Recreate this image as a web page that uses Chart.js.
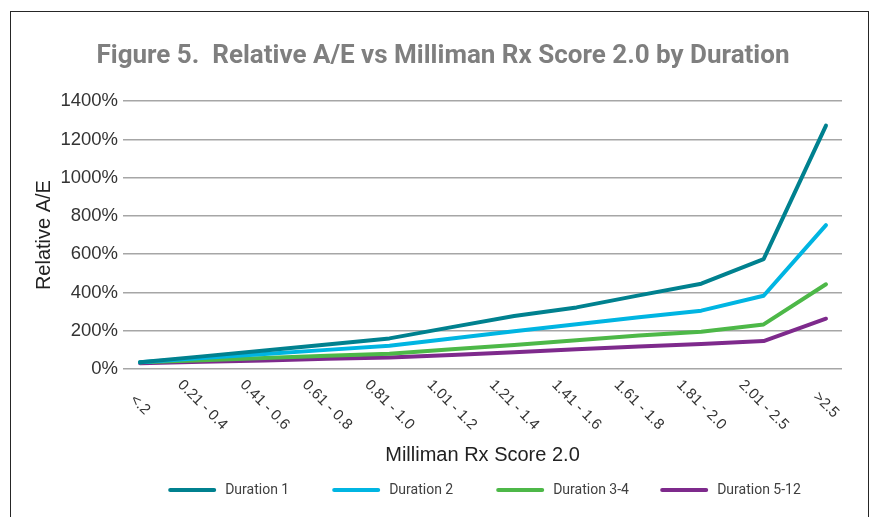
<!DOCTYPE html>
<html>
<head>
<meta charset="utf-8">
<script src="https://cdn.jsdelivr.net/npm/chart.js@4.4.0/dist/chart.umd.min.js"></script>
<style>
    html, body { margin: 0; padding: 0; background: #fff; }
    #wrap { position: relative; width: 873px; height: 517px; overflow: hidden; }
    #frame { position: absolute; left: 10px; top: 11px; width: 857px; height: 560px; border: 1.5px solid #262626; }
    #chart { position: absolute; left: 0; top: 0; }
</style>
</head>
<body>
<div id="wrap">
    <div id="frame"></div>
    <canvas id="chart" width="873" height="517"></canvas>
</div>
<script>
// Score bands on the x axis
const scoreBands = ['<.2', '0.21 - 0.4', '0.41 - 0.6', '0.61 - 0.8', '0.81 - 1.0', '1.01 - 1.2',
    '1.21 - 1.4', '1.41 - 1.6', '1.61 - 1.8', '1.81 - 2.0', '2.01 - 2.5', '>2.5'];

// Relative A/E (%) per duration group
const duration1 = [35, 66, 97, 128, 160, 219, 277, 322, 385, 446, 574, 1272];
const duration2 = [35, 57, 79, 100, 122, 160, 197, 234, 270, 305, 383, 752];
const duration34 = [35, 46, 57, 69, 80, 103, 126, 150, 175, 195, 233, 443];
const duration512 = [30, 38, 45, 53, 60, 73, 88, 103, 118, 131, 146, 263];

const yTicks = [0, 200, 400, 600, 800, 1000, 1200, 1400];

const seriesNames = ['Duration 1', 'Duration 2', 'Duration 3-4', 'Duration 5-12'];
const seriesColors = ['#00818f', '#00b5e2', '#4db848', '#7e2a8c'];

const axisFont = 'Liberation Sans';

function toPoints(values) {
    return values.map((v, i) => ({ x: i, y: v }));
}

// Diagonal x labels (rotated clockwise, centred on the tick)
const diagLabels = {
    id: 'diagLabels',
    afterDraw(chart) {
        const ctx = chart.ctx;
        const xs = chart.scales.x;
        ctx.save();
        ctx.font = '15px "' + axisFont + '"';
        ctx.fillStyle = '#333';
        ctx.textAlign = 'center';
        ctx.textBaseline = 'middle';
        scoreBands.forEach((lab, i) => {
            ctx.save();
            ctx.translate(xs.getPixelForValue(i), chart.chartArea.bottom + 36);
            ctx.rotate(Math.PI / 4);
            ctx.fillText(lab, 0, 0);
            ctx.restore();
        });
        ctx.restore();
    }
};

// Legend with equal slots, like the original
const slotLegend = {
    id: 'slotLegend',
    afterDraw(chart) {
        const ctx = chart.ctx;
        const area = chart.chartArea;
        const sets = chart.data.datasets;
        const slot = 164, lineLen = 48, gap = 9;
        ctx.save();
        ctx.font = '14px Roboto';
        const lastW = lineLen + gap + ctx.measureText(sets[sets.length - 1].label).width;
        let x = (area.left + area.right) / 2 - ((sets.length - 1) * slot + lastW) / 2 + 2;
        const y = chart.height - 27;
        sets.forEach(ds => {
            ctx.strokeStyle = ds.borderColor;
            ctx.lineWidth = 4;
            ctx.lineCap = 'round';
            ctx.beginPath();
            ctx.moveTo(x + 2, y);
            ctx.lineTo(x + lineLen - 2, y);
            ctx.stroke();
            ctx.fillStyle = '#404040';
            ctx.textAlign = 'left';
            ctx.textBaseline = 'middle';
            ctx.fillText(ds.label, x + lineLen + gap, y);
            x += slot;
        });
        ctx.restore();
    }
};

const allValues = [duration1, duration2, duration34, duration512];

new Chart(document.getElementById('chart').getContext('2d'), {
    type: 'line',
    data: {
        datasets: allValues.map((vals, k) => ({
            label: seriesNames[k],
            data: toPoints(vals),
            borderColor: seriesColors[k],
            backgroundColor: seriesColors[k],
            borderWidth: 4,
            borderCapStyle: 'round',
            borderJoinStyle: 'round',
            pointRadius: 0,
            tension: 0,
            fill: false
        }))
    },
    options: {
        responsive: false,
        animation: false,
        layout: { padding: { left: 44, right: 31, top: 30, bottom: 45 } },
        plugins: {
            legend: { display: false },
            tooltip: { enabled: false },
            title: {
                display: true,
                text: 'Figure 5.  Relative A/E vs Milliman Rx Score 2.0 by Duration',
                color: '#7f7f7f',
                font: { family: 'Roboto', size: 26, weight: 'bold' },
                padding: { top: 11, bottom: 29 }
            }
        },
        scales: {
            x: {
                type: 'linear',
                min: -0.273,
                max: 11.257,
                grid: { display: false },
                border: { display: false },
                ticks: { display: false },
                title: {
                    display: true,
                    text: 'Milliman Rx Score 2.0',
                    color: '#222',
                    font: { family: axisFont, size: 20 },
                    padding: { top: 0, bottom: 5 }
                },
                afterFit(scale) { scale.height = 103; }
            },
            y: {
                min: 0,
                max: 1400,
                afterBuildTicks(scale) { scale.ticks = yTicks.map(v => ({ value: v })); },
                grid: { color: '#a6a6a6', lineWidth: 1.5, drawTicks: false },
                border: { display: false },
                ticks: {
                    color: '#333',
                    padding: 5,
                    font: { family: axisFont, size: 18.5 },
                    callback: v => v + '%'
                },
                title: {
                    display: true,
                    text: 'Relative A/E',
                    color: '#222',
                    font: { family: axisFont, size: 20 },
                    padding: { top: -12, bottom: 0 }
                },
                afterFit(scale) { scale.width = 79; }
            }
        }
    },
    plugins: [diagLabels, slotLegend]
});
</script>
</body>
</html>
